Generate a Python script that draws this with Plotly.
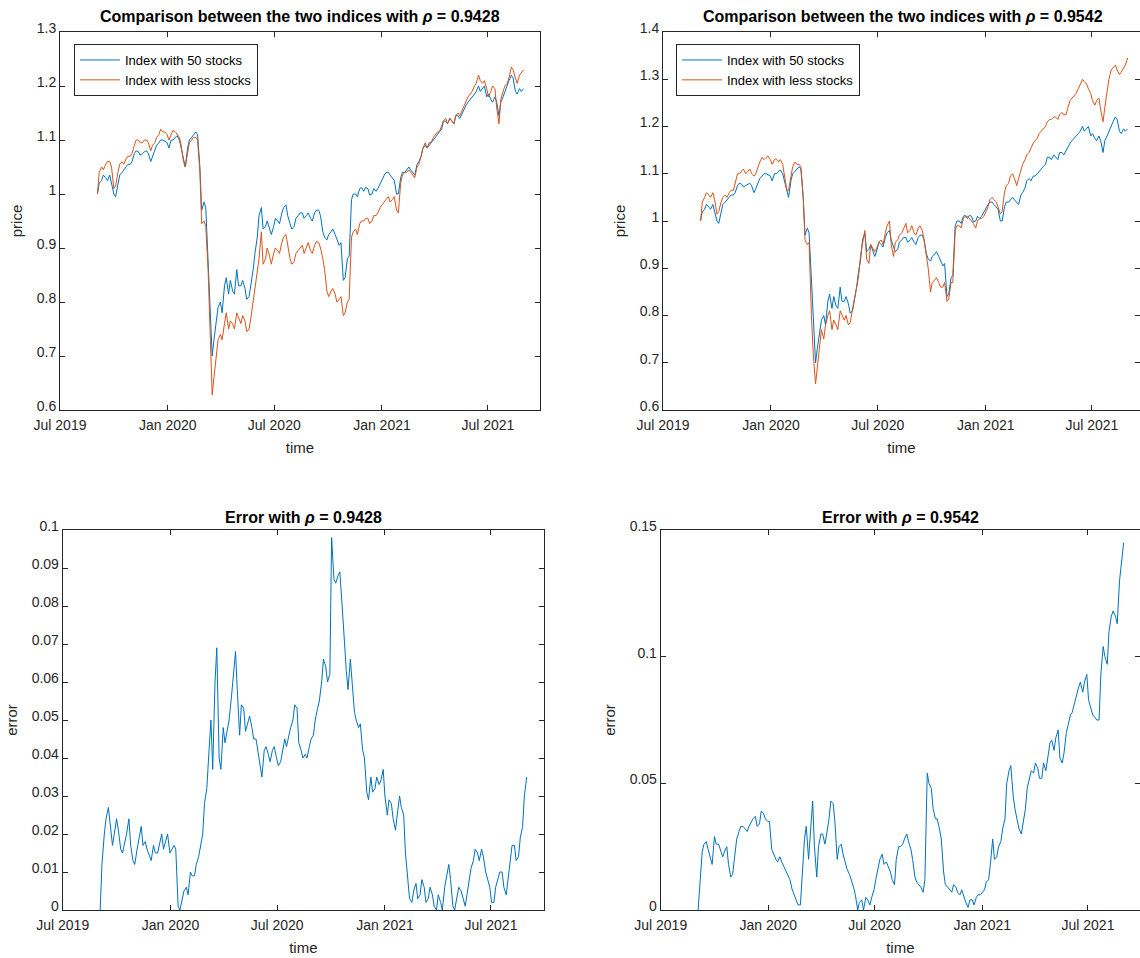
import plotly.graph_objects as go
import pandas as pd

# sampling dates: weekly (Tuesdays) plus mid-week (Fridays), Sep 2019 - Aug 2021
dates_wk = pd.date_range("2019-09-03", periods=105, freq="7D")
dates_mid = pd.date_range("2019-09-06", periods=104, freq="7D")

index_50_wk = [1.000, 1.025, 1.030, 1.035, 1.000, 1.020, 1.040, 1.050, 1.055, 1.075,
               1.078, 1.075, 1.080, 1.060, 1.080, 1.095, 1.100, 1.095, 1.100, 1.105,
               1.100, 1.060, 1.085, 1.105, 1.115, 1.050, 0.985, 0.880, 0.700, 0.760,
               0.800, 0.830, 0.815, 0.820, 0.860, 0.830, 0.825, 0.810, 0.860, 0.920,
               0.975, 0.940, 0.935, 0.940, 0.950, 0.965, 0.980, 0.945, 0.940, 0.960,
               0.965, 0.960, 0.955, 0.965, 0.970, 0.930, 0.915, 0.930, 0.925, 0.905,
               0.840, 0.880, 0.990, 1.000, 1.010, 1.005, 1.010, 1.000, 1.005, 1.020,
               1.035, 1.040, 1.030, 1.000, 1.030, 1.040, 1.050, 1.040, 1.055, 1.070,
               1.090, 1.095, 1.100, 1.110, 1.120, 1.135, 1.140, 1.130, 1.145, 1.150,
               1.165, 1.175, 1.185, 1.200, 1.195, 1.180, 1.175, 1.180, 1.145, 1.180,
               1.200, 1.220, 1.190, 1.195, 1.195]
index_50_mid = [1.020, 1.035, 1.025, 1.020, 0.995, 1.035, 1.045, 1.055, 1.060, 1.080,
                1.072, 1.078, 1.075, 1.068, 1.090, 1.100, 1.098, 1.085, 1.100, 1.108,
                1.085, 1.050, 1.100, 1.110, 1.110, 0.970, 0.975, 0.780, 0.730, 0.790,
                0.780, 0.845, 0.840, 0.815, 0.830, 0.840, 0.805, 0.830, 0.890, 0.960,
                0.935, 0.950, 0.925, 0.955, 0.945, 0.975, 0.960, 0.935, 0.955, 0.965,
                0.955, 0.965, 0.950, 0.970, 0.960, 0.920, 0.925, 0.935, 0.915, 0.910,
                0.845, 0.885, 1.000, 0.995, 1.012, 1.012, 0.998, 1.010, 1.010, 1.025,
                1.040, 1.035, 1.025, 1.000, 1.040, 1.045, 1.045, 1.035, 1.060, 1.085,
                1.085, 1.095, 1.105, 1.115, 1.135, 1.130, 1.135, 1.145, 1.140, 1.155,
                1.170, 1.180, 1.190, 1.190, 1.200, 1.185, 1.170, 1.170, 1.170, 1.190,
                1.210, 1.215, 1.185, 1.190]

less_a_wk = [1.000, 1.050, 1.055, 1.060, 1.010, 1.040, 1.060, 1.065, 1.070, 1.090,
             1.100, 1.095, 1.100, 1.080, 1.095, 1.110, 1.115, 1.110, 1.110, 1.115,
             1.105, 1.060, 1.080, 1.100, 1.105, 1.040, 0.950, 0.860, 0.628, 0.700,
             0.740, 0.760, 0.750, 0.760, 0.780, 0.760, 0.765, 0.750, 0.800, 0.850,
             0.930, 0.880, 0.885, 0.890, 0.895, 0.910, 0.925, 0.880, 0.875, 0.895,
             0.905, 0.900, 0.895, 0.905, 0.910, 0.880, 0.820, 0.820, 0.815, 0.805,
             0.775, 0.800, 0.920, 0.935, 0.945, 0.950, 0.955, 0.950, 0.960, 0.975,
             0.985, 0.995, 0.990, 0.970, 1.020, 1.040, 1.045, 1.035, 1.050, 1.070,
             1.095, 1.090, 1.105, 1.115, 1.125, 1.140, 1.140, 1.130, 1.150, 1.155,
             1.170, 1.185, 1.200, 1.220, 1.205, 1.195, 1.190, 1.195, 1.130, 1.190,
             1.205, 1.235, 1.215, 1.220, 1.230]
less_a_mid = [1.040, 1.045, 1.060, 1.050, 1.015, 1.055, 1.055, 1.070, 1.075, 1.100,
              1.095, 1.100, 1.095, 1.090, 1.105, 1.120, 1.115, 1.100, 1.118, 1.110,
              1.090, 1.050, 1.095, 1.105, 1.100, 0.945, 0.940, 0.740, 0.660, 0.730,
              0.730, 0.780, 0.765, 0.750, 0.770, 0.775, 0.745, 0.770, 0.820, 0.880,
              0.870, 0.900, 0.870, 0.900, 0.890, 0.920, 0.905, 0.870, 0.890, 0.900,
              0.890, 0.910, 0.890, 0.912, 0.900, 0.860, 0.810, 0.825, 0.800, 0.810,
              0.780, 0.805, 0.930, 0.925, 0.950, 0.955, 0.945, 0.960, 0.965, 0.980,
              0.990, 0.985, 0.995, 0.965, 1.035, 1.040, 1.040, 1.030, 1.055, 1.085,
              1.085, 1.095, 1.110, 1.115, 1.135, 1.130, 1.135, 1.145, 1.145, 1.160,
              1.180, 1.190, 1.205, 1.210, 1.210, 1.180, 1.200, 1.160, 1.175, 1.200,
              1.215, 1.230, 1.205, 1.225]

less_b_wk = [1.000, 1.050, 1.055, 1.060, 1.015, 1.040, 1.055, 1.060, 1.065, 1.100,
             1.105, 1.100, 1.110, 1.095, 1.115, 1.135, 1.135, 1.130, 1.130, 1.125,
             1.120, 1.065, 1.100, 1.125, 1.120, 1.050, 0.950, 0.800, 0.655, 0.740,
             0.750, 0.800, 0.770, 0.780, 0.810, 0.790, 0.780, 0.810, 0.860, 0.930,
             0.980, 0.910, 0.940, 0.945, 0.960, 0.975, 1.000, 0.925, 0.960, 0.975,
             0.995, 0.980, 0.975, 0.985, 0.980, 0.930, 0.850, 0.875, 0.870, 0.860,
             0.830, 0.870, 0.980, 0.990, 1.005, 1.010, 1.000, 0.985, 1.005, 1.010,
             1.030, 1.050, 1.040, 1.015, 1.060, 1.080, 1.100, 1.075, 1.110, 1.130,
             1.145, 1.165, 1.175, 1.190, 1.200, 1.215, 1.220, 1.215, 1.230, 1.225,
             1.255, 1.265, 1.280, 1.300, 1.290, 1.270, 1.245, 1.260, 1.210, 1.270,
             1.320, 1.330, 1.310, 1.325, 1.345]
less_b_mid = [1.040, 1.060, 1.050, 1.045, 1.020, 1.050, 1.050, 1.065, 1.080, 1.100,
              1.110, 1.105, 1.100, 1.100, 1.125, 1.130, 1.138, 1.120, 1.132, 1.130,
              1.100, 1.065, 1.115, 1.120, 1.115, 0.960, 0.955, 0.720, 0.690, 0.770,
              0.780, 0.810, 0.790, 0.770, 0.800, 0.800, 0.785, 0.830, 0.880, 0.955,
              0.920, 0.950, 0.935, 0.955, 0.950, 0.990, 0.950, 0.955, 0.970, 0.985,
              0.975, 0.990, 0.970, 0.990, 0.960, 0.900, 0.870, 0.880, 0.860, 0.870,
              0.835, 0.870, 0.990, 0.985, 1.010, 1.005, 0.995, 1.000, 1.005, 1.020,
              1.045, 1.045, 1.030, 1.020, 1.075, 1.095, 1.090, 1.090, 1.120, 1.140,
              1.155, 1.170, 1.185, 1.195, 1.210, 1.215, 1.220, 1.225, 1.225, 1.240,
              1.260, 1.270, 1.290, 1.295, 1.280, 1.255, 1.255, 1.235, 1.240, 1.300,
              1.325, 1.320, 1.315, 1.330]

error_a_wk = [0.000, 0.020, 0.027, 0.017, 0.024, 0.016, 0.018, 0.024, 0.013, 0.016,
              0.022, 0.018, 0.014, 0.017, 0.015, 0.020, 0.018, 0.015, 0.017, 0.001,
              0.003, 0.006, 0.010, 0.009, 0.014, 0.020, 0.032, 0.050, 0.060, 0.040,
              0.048, 0.048, 0.056, 0.068, 0.046, 0.053, 0.049, 0.048, 0.045, 0.037,
              0.042, 0.041, 0.042, 0.040, 0.039, 0.045, 0.046, 0.050, 0.053, 0.042,
              0.041, 0.043, 0.046, 0.053, 0.060, 0.064, 0.062, 0.087, 0.088, 0.080,
              0.063, 0.066, 0.052, 0.048, 0.042, 0.031, 0.035, 0.032, 0.033, 0.037,
              0.025, 0.028, 0.021, 0.030, 0.025, 0.009, 0.002, 0.007, 0.004, 0.006,
              0.003, 0.004, 0.000, 0.002, 0.006, 0.012, 0.001, 0.004, 0.005, 0.001,
              0.008, 0.013, 0.015, 0.016, 0.010, 0.006, 0.002, 0.008, 0.010, 0.004,
              0.012, 0.017, 0.014, 0.022, 0.035]
error_a_mid = [0.012, 0.024, 0.022, 0.020, 0.021, 0.015, 0.020, 0.017, 0.012, 0.019,
               0.017, 0.016, 0.013, 0.015, 0.017, 0.016, 0.020, 0.016, 0.016, 0.000,
               0.005, 0.004, 0.009, 0.012, 0.017, 0.028, 0.040, 0.037, 0.069, 0.037,
               0.044, 0.050, 0.062, 0.058, 0.054, 0.047, 0.051, 0.045, 0.042, 0.035,
               0.043, 0.039, 0.043, 0.038, 0.042, 0.043, 0.048, 0.054, 0.044, 0.040,
               0.040, 0.045, 0.050, 0.055, 0.066, 0.060, 0.098, 0.086, 0.089, 0.072,
               0.058, 0.060, 0.050, 0.049, 0.040, 0.029, 0.031, 0.035, 0.034, 0.030,
               0.029, 0.024, 0.025, 0.027, 0.015, 0.003, 0.005, 0.003, 0.008, 0.002,
               0.006, 0.001, 0.004, 0.000, 0.009, 0.008, 0.000, 0.006, 0.003, 0.004,
               0.011, 0.016, 0.013, 0.014, 0.008, 0.002, 0.006, 0.010, 0.006, 0.008,
               0.017, 0.013, 0.019, 0.030]

error_b_wk = [0.000, 0.023, 0.027, 0.020, 0.029, 0.026, 0.021, 0.025, 0.013, 0.022,
              0.031, 0.033, 0.031, 0.035, 0.037, 0.034, 0.038, 0.035, 0.024, 0.020,
              0.021, 0.017, 0.013, 0.008, 0.004, 0.002, 0.028, 0.020, 0.043, 0.013,
              0.030, 0.026, 0.036, 0.042, 0.020, 0.026, 0.018, 0.014, 0.009, 0.000,
              0.004, 0.005, 0.002, 0.008, 0.016, 0.022, 0.019, 0.015, 0.010, 0.025,
              0.026, 0.030, 0.024, 0.013, 0.010, 0.007, 0.054, 0.048, 0.036, 0.032,
              0.015, 0.009, 0.007, 0.009, 0.006, 0.005, 0.001, 0.004, 0.005, 0.006,
              0.008, 0.012, 0.028, 0.021, 0.027, 0.036, 0.055, 0.045, 0.035, 0.030,
              0.040, 0.052, 0.054, 0.056, 0.052, 0.055, 0.066, 0.063, 0.071, 0.058,
              0.070, 0.077, 0.082, 0.088, 0.086, 0.093, 0.080, 0.076, 0.075, 0.104,
              0.097, 0.116, 0.116, 0.130, 0.145]
error_b_mid = [0.012, 0.026, 0.024, 0.018, 0.026, 0.024, 0.023, 0.018, 0.014, 0.028,
               0.033, 0.032, 0.033, 0.036, 0.033, 0.039, 0.036, 0.035, 0.022, 0.019,
               0.019, 0.015, 0.012, 0.006, 0.002, 0.015, 0.033, 0.030, 0.025, 0.025,
               0.030, 0.030, 0.043, 0.035, 0.025, 0.022, 0.016, 0.012, 0.006, 0.003,
               0.000, 0.004, 0.005, 0.012, 0.020, 0.018, 0.017, 0.012, 0.020, 0.025,
               0.028, 0.027, 0.020, 0.011, 0.009, 0.012, 0.050, 0.040, 0.036, 0.028,
               0.010, 0.008, 0.010, 0.007, 0.008, 0.003, 0.004, 0.002, 0.006, 0.007,
               0.011, 0.018, 0.020, 0.025, 0.032, 0.050, 0.057, 0.040, 0.032, 0.035,
               0.048, 0.055, 0.058, 0.052, 0.058, 0.060, 0.067, 0.068, 0.060, 0.062,
               0.073, 0.078, 0.085, 0.090, 0.090, 0.083, 0.077, 0.075, 0.093, 0.100,
               0.110, 0.118, 0.113, 0.137]

x_ticks = ["2019-07-01", "2020-01-01", "2020-07-01", "2021-01-01", "2021-07-01"]
x_tick_labels = ["Jul 2019", "Jan 2020", "Jul 2020", "Jan 2021", "Jul 2021"]


def merged(wk, mid):
    s = pd.concat([pd.Series(wk, index=dates_wk), pd.Series(mid, index=dates_mid)])
    return s.sort_index()


s50 = merged(index_50_wk, index_50_mid)
sa = merged(less_a_wk, less_a_mid)
sb = merged(less_b_wk, less_b_mid)
ea = merged(error_a_wk, error_a_mid)
eb = merged(error_b_wk, error_b_mid)

BLUE = "#0072BD"
ORANGE = "#D95319"
AX = "#262626"
FONT = "Liberation Sans, Arial, sans-serif"
W, H = 1140, 958

fig = go.Figure()

fig.add_trace(go.Scatter(x=s50.index, y=s50.values, mode="lines", name="Index with 50 stocks",
                         line=dict(color=BLUE, width=1), xaxis="x", yaxis="y", legend="legend"))
fig.add_trace(go.Scatter(x=sa.index, y=sa.values, mode="lines", name="Index with less stocks",
                         line=dict(color=ORANGE, width=1), xaxis="x", yaxis="y", legend="legend"))
fig.add_trace(go.Scatter(x=s50.index, y=s50.values, mode="lines", name="Index with 50 stocks",
                         line=dict(color=BLUE, width=1), xaxis="x2", yaxis="y2", legend="legend2"))
fig.add_trace(go.Scatter(x=sb.index, y=sb.values, mode="lines", name="Index with less stocks",
                         line=dict(color=ORANGE, width=1), xaxis="x2", yaxis="y2", legend="legend2"))
fig.add_trace(go.Scatter(x=ea.index, y=ea.values, mode="lines", showlegend=False,
                         line=dict(color=BLUE, width=1), xaxis="x3", yaxis="y3"))
fig.add_trace(go.Scatter(x=eb.index, y=eb.values, mode="lines", showlegend=False,
                         line=dict(color=BLUE, width=1), xaxis="x4", yaxis="y4"))


def xax(left_px, right_px, end_date, anchor):
    return dict(domain=[left_px / W, right_px / W], type="date", automargin=False,
                range=["2019-07-01", end_date], tickvals=x_ticks, ticktext=x_tick_labels,
                ticks="inside", ticklen=5, tickcolor=AX, showline=True, linecolor=AX,
                linewidth=1, mirror="ticks", showgrid=False, zeroline=False,
                ticklabelstandoff=2,
                tickfont=dict(family=FONT, size=14, color=AX), anchor=anchor,
                title=dict(text="time", font=dict(family=FONT, size=15, color=AX), standoff=10))


def yax(top_px, bottom_px, rng, dtick, label, anchor):
    return dict(domain=[1 - bottom_px / H, 1 - top_px / H], range=rng, dtick=dtick,
                automargin=False, ticklabelshift=-4,
                ticks="inside", ticklen=5, tickcolor=AX, showline=True, linecolor=AX,
                linewidth=1, mirror="ticks", showgrid=False, zeroline=False,
                tickfont=dict(family=FONT, size=14, color=AX), anchor=anchor,
                title=dict(text=label, font=dict(family=FONT, size=15, color=AX), standoff=10))


legend_style = dict(bgcolor="white", bordercolor=AX, borderwidth=1,
                    font=dict(family=FONT, size=13, color="black"),
                    xanchor="left", yanchor="top", tracegroupgap=0, itemwidth=40)

fig.update_layout(
    width=W, height=958, margin=dict(l=0, r=0, t=0, b=0, autoexpand=False),
    paper_bgcolor="white", plot_bgcolor="white",
    xaxis=xax(60, 540, "2021-09-28", "y"),
    yaxis=yax(32, 410, [0.6, 1.3], 0.1, "price", "x"),
    xaxis2=xax(663, 1140, "2021-09-21", "y2"),
    yaxis2=yax(32, 410, [0.6, 1.4], 0.1, "price", "x2"),
    xaxis3=xax(62.7, 544, "2021-09-29 12:00", "y3"),
    yaxis3=yax(530, 910, [0, 0.1], 0.01, "error", "x3"),
    xaxis4=xax(660.7, 1140, "2021-09-28", "y4"),
    yaxis4=yax(530, 910, [0, 0.15], 0.05, "error", "x4"),
    legend=dict(x=74 / W, y=1 - 44 / H, **legend_style),
    legend2=dict(x=676 / W, y=1 - 44 / H, **legend_style),
    showlegend=True,
)

titles = [
    ((60 + 540) / 2, 17, "Comparison between the two indices with <i>ρ</i> = 0.9428"),
    ((663 + 1143) / 2, 17, "Comparison between the two indices with <i>ρ</i> = 0.9542"),
    ((62.7 + 544) / 2, 517, "Error with <i>ρ</i> = 0.9428"),
    ((660.7 + 1141) / 2, 517, "Error with <i>ρ</i> = 0.9542"),
]
for cx, cy, txt in titles:
    fig.add_annotation(x=cx / W, y=1 - cy / H, xref="paper", yref="paper",
                       text="<b>" + txt + "</b>", showarrow=False,
                       xanchor="center", yanchor="middle",
                       font=dict(family=FONT, size=16, color="black"))

fig.write_html("out.html")
